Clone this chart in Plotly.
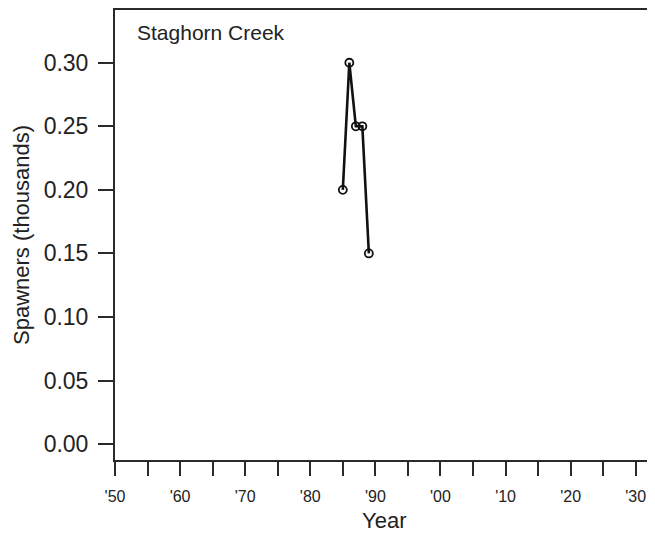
import plotly.graph_objects as go

years = [1985, 1986, 1987, 1988, 1989]
spawners = [0.20, 0.30, 0.25, 0.25, 0.15]

x_tickvals = list(range(1950, 2031, 5))
x_ticktext = ["'50", "", "'60", "", "'70", "", "'80", "", "'90", "", "'00", "", "'10", "", "'20", "", "'30"]
y_tickvals = [0.00, 0.05, 0.10, 0.15, 0.20, 0.25, 0.30]
y_ticktext = ["0.00", "0.05", "0.10", "0.15", "0.20", "0.25", "0.30"]

FONT = "Liberation Sans, Arial, sans-serif"
INK = "#222222"
AX = "#2a2a2a"

fig = go.Figure()
fig.add_trace(go.Scatter(
    x=years, y=spawners, mode="lines+markers",
    line=dict(color="#111111", width=2.6),
    marker=dict(symbol="circle-open", size=8, color="#111111", line=dict(width=1.8)),
    showlegend=False, hoverinfo="skip",
))

fig.update_layout(
    width=647, height=528,
    margin=dict(l=107, r=3, t=0, b=76),
    paper_bgcolor="white", plot_bgcolor="white",
    font=dict(family=FONT, color=INK),
    xaxis=dict(
        range=[1950, 2032.5], tickmode="array", tickvals=x_tickvals, ticktext=x_ticktext,
        ticks="outside", ticklen=14, tickwidth=2, tickcolor=AX,
        showline=True, linecolor=AX, linewidth=2, mirror=True,
        showgrid=False, zeroline=False, ticklabelstandoff=7,
        tickfont=dict(size=16, color=INK, family=FONT),
    ),
    yaxis=dict(
        range=[-0.0125, 0.3415], tickmode="array", tickvals=y_tickvals, ticktext=y_ticktext,
        ticks="outside", ticklen=15, tickwidth=2, tickcolor=AX,
        showline=True, linecolor=AX, linewidth=2, mirror=True,
        showgrid=False, zeroline=False, ticklabelstandoff=5,
        tickfont=dict(size=23, color=INK, family=FONT),
    ),
    annotations=[
        dict(text="Spawners (thousands)", x=0, y=0.5, xref="paper", yref="paper",
             xanchor="center", yanchor="middle", xshift=-94, textangle=-90,
             showarrow=False, font=dict(size=22, color=INK, family=FONT)),
        dict(text="Year", x=0.5, y=0, xref="paper", yref="paper",
             xanchor="center", yanchor="middle", yshift=-60,
             showarrow=False, font=dict(size=22, color=INK, family=FONT)),
        dict(text="Staghorn Creek", x=0, y=1, xref="paper", yref="paper",
             xanchor="left", yanchor="middle", xshift=20, yshift=-22,
             showarrow=False, font=dict(size=21, color=INK, family=FONT)),
    ],
)

fig.write_html("out.html")
